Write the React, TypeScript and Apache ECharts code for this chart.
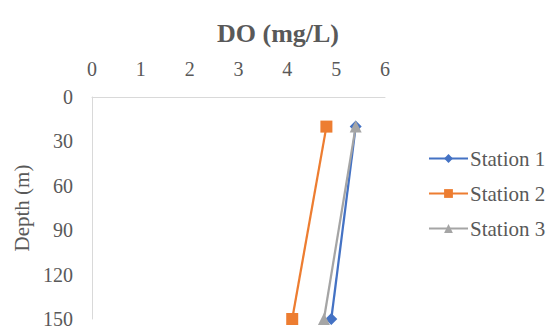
import React, { useEffect, useRef } from "react";
import * as echarts from "echarts";

const seriesNames = ["Station 1", "Station 2", "Station 3"];
const depths = [20, 150];
const station1 = [5.4, 4.9];
const station2 = [4.8, 4.1];
const station3 = [5.4, 4.75];
const colors = ["#4472C4", "#ED7D31", "#A5A5A5"];
const symbols = ["diamond", "rect", "triangle"];

export default function App() {
  const ref = useRef<HTMLDivElement>(null);
  useEffect(() => {
    document.body.style.margin = "0";
    const chart = echarts.init(ref.current!, null, { renderer: "svg" });
    const values = [station1, station2, station3];
    const font = "Times New Roman, Liberation Serif, DejaVu Serif, serif";
    chart.setOption({
      animation: false,
      backgroundColor: "#ffffff",
      textStyle: { fontFamily: font },
      title: {
        text: "DO (mg/L)",
        left: 273,
        top: 15,
        textAlign: "center",
        textStyle: { fontFamily: font, fontSize: 26, fontWeight: "bold", color: "#595959" },
      },
      legend: {
        orient: "vertical",
        left: 423,
        top: 143,
        itemWidth: 39,
        itemHeight: 11,
        itemGap: 14,
        data: seriesNames,
        textStyle: { fontFamily: font, fontSize: 21, color: "#595959", padding: [0, 0, 0, -3] },
      },
      grid: { left: 92, right: 164, top: 97, bottom: 11 },
      xAxis: {
        type: "value",
        position: "top",
        min: 0,
        max: 6,
        interval: 1,
        axisLine: { show: true, lineStyle: { color: "#D9D9D9", width: 1 } },
        axisTick: { show: false },
        splitLine: { show: false },
        axisLabel: { fontFamily: font, fontSize: 20, color: "#595959", margin: 18 },
      },
      yAxis: {
        type: "value",
        inverse: true,
        min: 0,
        max: 150,
        interval: 30,
        name: "Depth (m)",
        nameLocation: "middle",
        nameRotate: 90,
        nameGap: 60,
        nameTextStyle: { fontFamily: font, fontSize: 21, color: "#595959" },
        axisLine: { show: true, lineStyle: { color: "#D9D9D9", width: 1 } },
        axisTick: { show: false },
        splitLine: { show: false },
        axisLabel: { fontFamily: font, fontSize: 20, color: "#595959", margin: 19 },
      },
      series: seriesNames.map((name, i) => ({
        name,
        type: "line",
        data: depths.map((d, j) => [values[i][j], d]),
        symbol: symbols[i],
        symbolSize: 12,
        itemStyle: { color: colors[i] },
        lineStyle: { color: colors[i], width: 2.25 },
        z: i === 2 ? 4 : i === 0 ? 3 : 2,
      })),
    });
    return () => chart.dispose();
  }, []);
  return <div ref={ref} style={{ position: "absolute", left: 0, top: 0, width: 549, height: 330 }} />;
}
